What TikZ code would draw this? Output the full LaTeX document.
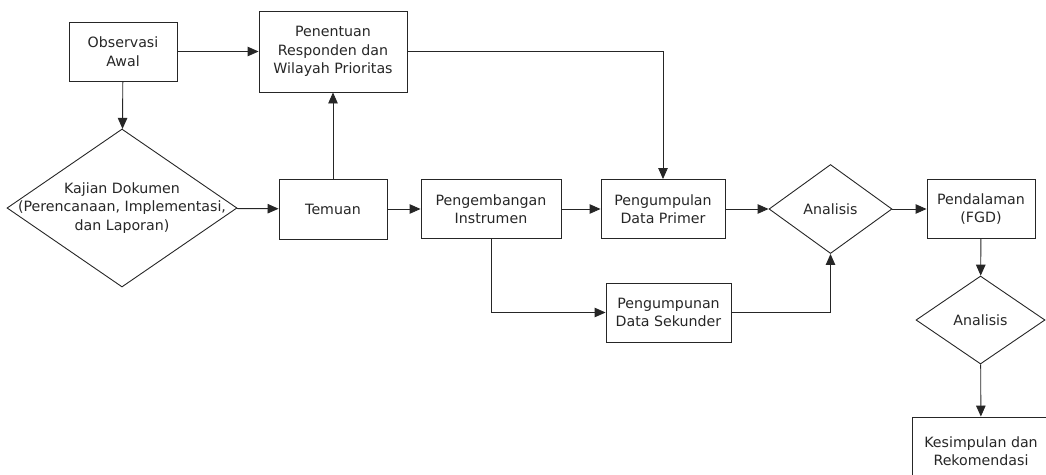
\documentclass[tikz,border=0pt]{standalone}
\usepackage{fontspec}
\setmainfont{DejaVu Sans}
\usetikzlibrary{arrows.meta, shapes.geometric}
\tikzset{>={Triangle[length=11pt,width=9.5pt]}}
\tikzset{
  box/.style={draw, rectangle, inner sep=0pt, align=center},
  decision/.style={draw, diamond, inner sep=0pt, align=center},
  txt/.style={align=center, inner sep=0pt},
  flow/.style={->, line width=0.9pt}
}

\begin{document}
\begin{tikzpicture}[x=1pt, y=-1pt, color=black!85, line width=0.9pt,
  font=\fontsize{14.2pt}{18.5pt}\selectfont]
\useasboundingbox (0,0) rectangle (1046,474);
\node[box, minimum width=108pt, minimum height=59pt] (obs) at (123,51.5) {Observasi\\Awal};
\node[box, minimum width=148pt, minimum height=81pt] (pen) at (333,51.5) {Penentuan\\Responden dan\\Wilayah Prioritas};
\node[decision, minimum width=230pt, minimum height=158pt] (kajian) at (122,208) {};
\node[txt] (kajiantxt) at (kajian.center) {Kajian Dokumen\\(Perencanaan, Implementasi,\\dan Laporan)};
\node[box, minimum width=108pt, minimum height=60pt] (temuan) at (333,209) {Temuan};
\node[box, minimum width=140pt, minimum height=59pt] (kembang) at (491,209) {Pengembangan\\Instrumen};
\node[box, minimum width=124pt, minimum height=59pt] (primer) at (663,209) {Pengumpulan\\Data Primer};
\node[box, minimum width=125pt, minimum height=59pt] (sekunder) at (668.5,312.5) {Pengumpunan\\Data Sekunder};
\node[decision, minimum width=123pt, minimum height=89pt] (analisis) at (830.5,209) {Analisis};
\node[box, minimum width=108pt, minimum height=59pt] (dalam) at (981,209) {Pendalaman\\(FGD)};
\node[decision, minimum width=129pt, minimum height=88pt] (analisisb) at (980.5,320) {Analisis};
\node[box, minimum width=138pt, minimum height=68pt] (simpul) at (981,451) {Kesimpulan dan\\Rekomendasi};

\draw[flow] (obs) -- (pen);
\draw[flow] (obs) -- (kajian);
\draw[flow] (kajian) -- (temuan);
\draw[flow] (temuan) -- (pen);
\draw[flow] (temuan) -- (kembang);
\draw[flow] (kembang) -- (primer);
\draw[flow] (pen.east) -| (primer.north);
\draw[flow] (kembang.south) |- (sekunder.west);
\draw[flow] (primer) -- (analisis);
\draw[flow] (sekunder.east) -| (analisis.south);
\draw[flow] (analisis) -- (dalam);
\draw[flow] (dalam) -- (analisisb);
\draw[flow] (analisisb) -- (simpul);
\end{tikzpicture}
\end{document}
